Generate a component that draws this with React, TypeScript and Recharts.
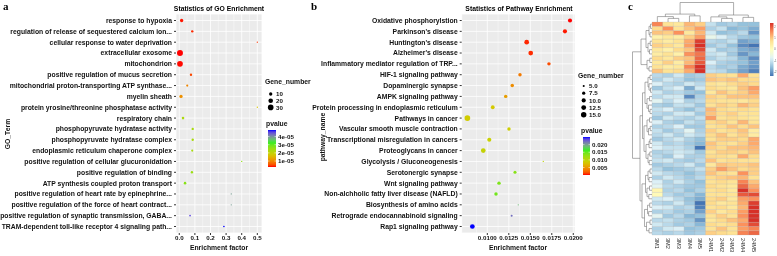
import React from "react";
import { ScatterChart, Scatter, XAxis, YAxis, ZAxis, CartesianGrid, Cell, BarChart, Bar } from "recharts";

const FONT = "'Liberation Sans', Arial, Helvetica, sans-serif";
const SERIF = "'Liberation Serif', 'Times New Roman', serif";
const FS = 6.8;

// ---------- a: GO enrichment ----------
const goTerms = [
  "response to hypoxia",
  "regulation of release of sequestered calcium ion...",
  "cellular response to water deprivation",
  "extracellular exosome",
  "mitochondrion",
  "positive regulation of mucus secretion",
  "mitochondrial proton-transporting ATP synthase...",
  "myelin sheath",
  "protein yrosine/threonine phosphatase activity",
  "respiratory chain",
  "phosphopyruvate hydratase activity",
  "phosphopyruvate hydratase complex",
  "endoplasmic reticulum chaperone complex",
  "positive regulation of cellular glucuronidation",
  "positive regulation of binding",
  "ATP synthesis coupled proton transport",
  "positive regulation of heart rate by epinephrine...",
  "positive regulation of the force of heart contract...",
  "positive regulation of synaptic transmission, GABA...",
  "TRAM-dependent toll-like receptor 4 signaling path...",
];
const goFactor = [0.015, 0.083, 0.5, 0.0045, 0.0045, 0.075, 0.051, 0.011, 0.5, 0.024, 0.086, 0.086, 0.083, 0.4, 0.081, 0.037, 0.333, 0.333, 0.069, 0.286];
const goGenes = [10, 5, 1, 34, 31, 5, 4, 10, 1, 6, 5, 5, 4, 1, 5, 6, 1, 1, 2, 2];
const goPvalue = [3e-6, 3.5e-6, 4e-6, 2.7e-6, 2.8e-6, 5e-6, 1.0e-5, 1.1e-5, 1.7e-5, 2.3e-5, 2.35e-5, 2.35e-5, 2.35e-5, 2.6e-5, 2.5e-5, 2.7e-5, 3.9e-5, 3.9e-5, 4.55e-5, 4.8e-5];
const goTicksX = [0, 0.1, 0.2, 0.3, 0.4, 0.5];
const goMinorX = [0.05, 0.15, 0.25, 0.35, 0.45];
const goSizeBreaks = [10, 20, 30];
const goPBreaks = [1e-5, 2e-5, 3e-5, 4e-5];
const goPLabels = ["1e-05", "2e-05", "3e-05", "4e-05"];

// ---------- b: pathway enrichment ----------
const pathTerms = [
  "Oxidative phosphorylstion",
  "Parkinson's disease",
  "Huntington's disease",
  "Alzheimer's disease",
  "Inflammatory mediator regulation of TRP...",
  "HIF-1 signaling pathway",
  "Dopaminergic synapse",
  "AMPK signaling pathway",
  "Protein processing in endoplasmic reticulum",
  "Pathways in cancer",
  "Vascular smooth muscle contraction",
  "Transcriptional misregulation in cancers",
  "Proteoglycans in cancer",
  "Glycolysis / Gluconeogenesis",
  "Serotonergic synapse",
  "Wnt signaling pathway",
  "Non-alchholic fatty liver disease (NAFLD)",
  "Biosynthesis of amino acids",
  "Retrograde endocannabinoid signaling",
  "Rap1 signaling pathway",
];
const pathFactor = [0.01962, 0.01903, 0.01458, 0.01505, 0.01717, 0.0138, 0.0129, 0.01214, 0.01063, 0.00768, 0.01252, 0.01023, 0.00953, 0.01651, 0.01322, 0.01136, 0.01101, 0.0136, 0.01283, 0.00826];
const pathGenes = [10, 10, 12, 12, 8, 8, 8, 8, 9, 16, 8, 10, 12, 4, 7, 8, 8, 4, 5, 12];
const pathPvalue = [0.0001, 0.0003, 0.0005, 0.0006, 0.0015, 0.0035, 0.0045, 0.0055, 0.0082, 0.0085, 0.0088, 0.0092, 0.0095, 0.0098, 0.0135, 0.014, 0.0145, 0.0188, 0.022, 0.025];
const pathTicksX = [0.01, 0.0125, 0.015, 0.0175, 0.02];
const pathMinorX = [0.00875, 0.01125, 0.01375, 0.01625, 0.01875];
const pathSizeBreaks = [5, 7.5, 10, 12.5, 15];
const pathPBreaks = [0.005, 0.01, 0.015, 0.02];
const pathPLabels = ["0.005", "0.010", "0.015", "0.020"];

// ---------- c: heatmap (row z-scores, rows top -> bottom) ----------
const samples = ["3M1", "3M2", "3M3", "3M4", "3M5", "24M1", "24M2", "24M3", "24M4", "24M5"];
const s3M1 = [1.4, 0.7, 0.9, 0.3, 0.6, 0.8, 0.5, 0.4, 0.7, 0.5, 0.6, 0.9,
  -1.0, -1.1, -0.7, -1.2, -0.8, -1.0, -0.6, -1.1, -0.9, -1.0, -1.2, -0.7, -1.1, -0.9, -1.0, -1.2, -0.8, -0.7, -1.1,
  -1.0, -0.9, -1.2, -1.0, -0.8, -1.1, -0.7, -0.6, 0.2, 0.1, -0.8, -1.0, -0.7, -1.1, -0.6, -1.0, -0.8, -1.1, -1.0];
const s3M2 = [0.6, 1.3, 0.8, 0.5, 0.4, 0.7, 0.3, 0.6, 0.5, 0.8, 0.4, 0.6,
  -1.1, -0.8, -1.0, -0.9, -1.1, -0.8, -1.0, -1.2, -0.7, -1.1, -0.8, -1.1, -1.0, -1.2, -0.8, -1.0, -1.1, -0.9, -1.0,
  -1.2, -0.8, -1.1, -1.3, -1.0, -0.8, -1.1, -1.0, -1.1, -1.0, -0.7, -1.1, -0.8, -1.0, -1.2, -0.9, -1.0, -0.8, -1.1];
const s3M3 = [0.5, 0.6, 1.3, 0.4, 0.6, 0.5, 0.7, 0.3, 0.8, 0.4, 0.5, 0.7,
  -0.8, -1.0, -1.1, -0.7, -1.0, -0.8, -0.7, -0.9, -1.1, -0.8, -1.0, -1.2, -0.7, -1.0, -1.1, -0.8, -1.0, -0.9, -0.8,
  -0.7, -1.1, -1.0, -1.2, -1.1, -1.0, -0.8, -1.1, -1.0, -1.2, -1.0, -0.8, -1.1, -1.2, -1.0, -1.1, -1.2, -0.7, -1.0];
const s3M4 = [1.0, 0.9, 0.5, 0.8, 1.1, 1.2, 0.9, 1.3, 0.9, 1.0, 1.4, 1.1,
  -1.2, -1.3, -0.8, -1.5, -1.2, -1.8, -1.1, -0.9, -1.3, -0.8, -1.1, -0.9, -1.2, -0.6, -0.8, -1.1, -1.2, -1.1, -0.9,
  -1.1, -1.2, -0.8, -1.1, -1.3, -1.2, -1.1, -1.2, -1.3, -1.1, -1.3, -1.2, -1.0, -1.1, -1.4, -1.2, -1.1, -1.3, -1.2];
const s3M5 = [0.8, 1.2, 1.0, 1.2, 1.9, 2.4, 1.8, 1.5, 1.6, 1.7, 2.2, 2.3,
  -1.1, -1.2, -1.0, -0.8, -1.3, -1.1, -1.0, -1.2, -1.0, -1.2, -0.9, -1.1, -1.2, -1.1, -1.0, -1.3, -1.4, -2.0, -1.2,
  -1.1, -1.0, -1.2, -0.9, -1.1, -1.0, -1.3, -1.2, -1.1, -1.4, -1.5, -2.1, -1.9, -1.6, -1.3, -1.7, -1.4, -1.2, -1.1];
const s24M1 = [-0.9, -1.1, -0.8, -0.5, -1.0, -1.2, -0.8, -0.9, -1.1, -0.7, -1.0, -0.9,
  0.8, 0.9, 0.6, 0.7, 0.5, 0.8, 0.7, 0.6, 1.0, 0.9, 1.2, 0.7, 0.6, 0.8, 0.7, 0.6, 0.9, 0.8, 0.6,
  0.7, 0.9, 0.5, 0.8, 0.9, 0.7, 0.6, 0.7, 0.6, 0.6, 0.7, 0.7, 0.6, 0.8, 0.6, 0.5, 0.7, 0.6, 0.8];
const s24M2 = [-1.2, -0.9, -1.3, -0.7, -1.1, -1.0, -1.2, -0.8, -0.9, -1.1, -1.2, -1.0,
  0.7, 0.8, 0.5, 0.6, 0.9, 0.7, 0.6, 0.8, 0.7, 0.7, 0.6, 0.8, 0.7, 0.6, 0.9, 0.8, 0.7, 0.7, 0.8,
  0.7, 0.6, 0.9, 1.2, 0.7, 0.8, 0.7, 0.6, 0.7, 0.6, 0.8, 0.5, 0.7, 0.5, 0.8, 0.7, 0.6, 0.9, 0.7];
const s24M3 = [-1.1, -1.4, -1.2, -1.0, -0.9, -1.3, -1.1, -1.2, -1.0, -1.2, -1.1, -1.3,
  0.6, 0.9, 0.7, 0.5, 0.7, 0.9, 0.6, 0.7, 0.6, 0.8, 0.7, 0.6, 0.9, 0.7, 0.6, 0.8, 0.6, 0.9, 0.8,
  0.6, 0.7, 0.8, 0.9, 0.6, 0.9, 0.6, 0.5, 0.5, 0.6, 0.5, 0.6, 0.5, 0.7, 0.6, 0.9, 0.7, 0.6, 0.6];
const s24M4 = [-1.3, -1.3, -1.0, -1.2, -1.6, -1.8, -1.5, -1.7, -1.4, -1.3, -1.5, -1.6,
  1.1, 0.7, 0.8, 0.9, 0.8, 0.9, 0.5, 1.0, 0.7, 0.6, 0.6, 1.0, 0.7, 0.9, 0.8, 0.7, 0.8, 0.9, 0.7,
  1.1, 0.6, 0.8, 0.7, 1.3, 1.0, 1.4, 1.6, 2.4, 1.7, 1.2, 1.1, 1.0, 1.2, 1.3, 1.1, 1.3, 1.2, 1.4];
const s24M5 = [-1.3, -1.5, -1.7, -1.3, -1.5, -2.3, -1.6, -1.4, -1.8, -1.6, -1.7, -1.9,
  0.6, 0.7, 0.7, 1.2, 1.1, 0.9, 0.7, 0.8, 0.6, 0.6, 0.5, 0.6, 0.9, 0.4, 0.4, 1.1, 1.1, 1.0, 0.9,
  0.7, 0.6, 0.9, 0.8, 0.8, 0.6, 0.9, 1.1, 1.3, 1.8, 1.3, 1.9, 2.2, 2.3, 2.0, 2.2, 1.8, 1.4, 1.6];
const heatCols = [s3M1, s3M2, s3M3, s3M4, s3M5, s24M1, s24M2, s24M3, s24M4, s24M5];
const heatKeyLabels = ["2", "1", "0", "-1", "-2"];

// dendrograms: [mergeHeight, left, right], leaves are row / column indices
type Tree = number | [number, Tree, Tree];
const rowTop: Tree = [11, [6, [3, [1.5, 0, 1], [2, 2, 3]], [4, [1.8, 4, 5], [2.5, 6, 7]]], [5, [2.2, 8, 9], [3, 10, 11]]];
const rowB1: Tree = [7, [4, [2, 12, 13], [3, 14, [1.5, 15, 16]]], [5, [2.5, 17, 18], [3.5, 19, [2, 20, 21]]]];
const rowB2: Tree = [8, [5, [2.5, 22, 23], [3.5, [1.8, 24, 25], 26]], [6, [3, [2, 27, 28], 29], [4, [2.2, 30, 31], [2.8, 32, 33]]]];
const rowB3: Tree = [6.5, [4, [2, 34, 35], [3, 36, 37]], [5, [2.5, 38, 39], [3.2, 40, 41]]];
const rowB4: Tree = [7.5, [4.5, [2.3, 42, 43], [3.4, 44, 45]], [5.5, [2, 46, 47], [3, 48, 49]]];
const rowTree: Tree = [19.5, rowTop, [12, [9.5, rowB1, rowB2], [10, rowB3, rowB4]]];
const colTree: Tree = [19, [7.7, [5.3, 0, [3.5, 1, 2]], [6, 3, 4]], [6.8, [5, 5, [3.5, 6, 7]], [4.5, 8, 9]]];

// ---------- colour helpers ----------
const hexRgb = (h: string) => {
  const n = parseInt(h.slice(1), 16);
  return [(n >> 16) & 255, (n >> 8) & 255, n & 255];
};
const toHex = (c: number[]) =>
  "#" + c.map((v) => Math.round(Math.max(0, Math.min(255, v))).toString(16).padStart(2, "0")).join("");
const lin = (c: number) => {
  c /= 255;
  return c <= 0.04045 ? c / 12.92 : Math.pow((c + 0.055) / 1.055, 2.4);
};
const gam = (c: number) => {
  c = Math.max(0, Math.min(1, c));
  return (c <= 0.0031308 ? 12.92 * c : 1.055 * Math.pow(c, 1 / 2.4) - 0.055) * 255;
};
const WX = 0.95047, WZ = 1.08883;
const fLab = (t: number) => (t > 216 / 24389 ? Math.cbrt(t) : (841 / 108) * t + 4 / 29);
const fInv = (t: number) => (t > 6 / 29 ? t * t * t : (108 / 841) * (t - 4 / 29));
function rgbToLab([r, g, b]: number[]) {
  const R = lin(r), G = lin(g), B = lin(b);
  const fx = fLab((0.4124564 * R + 0.3575761 * G + 0.1804375 * B) / WX);
  const fy = fLab(0.2126729 * R + 0.7151522 * G + 0.072175 * B);
  const fz = fLab((0.0193339 * R + 0.119192 * G + 0.9503041 * B) / WZ);
  return [116 * fy - 16, 500 * (fx - fy), 200 * (fy - fz)];
}
function labToRgb([L, a, b]: number[]) {
  const fy = (L + 16) / 116;
  const X = WX * fInv(fy + a / 500), Y = fInv(fy), Z = WZ * fInv(fy - b / 200);
  return [
    gam(3.2404542 * X - 1.5371385 * Y - 0.4985314 * Z),
    gam(-0.969266 * X + 1.8760108 * Y + 0.041556 * Z),
    gam(0.0556434 * X - 0.2040259 * Y + 1.0572252 * Z),
  ];
}
function ramp(colors: string[], lab: boolean) {
  const pts = colors.map((c) => (lab ? rgbToLab(hexRgb(c)) : hexRgb(c)));
  return (t: number) => {
    const s = Math.max(0, Math.min(1, t)) * (pts.length - 1);
    const i = Math.min(Math.floor(s), pts.length - 2);
    const f = s - i;
    const m = pts[i].map((v, k) => v + (pts[i + 1][k] - v) * f);
    return toHex(lab ? labToRgb(m) : m);
  };
}
const pRamp = ramp(["#FF0000", "#D2CC00", "#22EE22", "#0000FF"], true);
const heatRamp = ramp(["#4575B4", "#91BFDB", "#E0F3F8", "#FFFFBF", "#FEE090", "#FC8D59", "#D73027"], false);
const HEAT_LO = -2, HEAT_HI = 2;
const heatColor = (v: number) => heatRamp((v - HEAT_LO) / (HEAT_HI - HEAT_LO));

const goPmin = Math.min(...goPvalue), goPmax = Math.max(...goPvalue);
const pathPmin = Math.min(...pathPvalue), pathPmax = Math.max(...pathPvalue);

// size scale (area) shared by chart ZAxis and legend
const GO_Z = { domain: [1, 34], range: [1.3, 28] };
const PATH_Z = { domain: [4, 16], range: [1.3, 25.5] };
const areaOf = (n: number, z: { domain: number[]; range: number[] }) =>
  z.range[0] + ((n - z.domain[0]) / (z.domain[1] - z.domain[0])) * (z.range[1] - z.range[0]);

// ---------- chart data ----------
const goData = goTerms.map((t, i) => ({ term: t, x: goFactor[i], y: goTerms.length - 1 - i, z: goGenes[i], p: goPvalue[i] }));
const pathData = pathTerms.map((t, i) => ({ term: t, x: pathFactor[i], y: pathTerms.length - 1 - i, z: pathGenes[i], p: pathPvalue[i] }));

const nRows = s3M1.length;
const heatData = samples.map((s) => {
  const row: Record<string, string | number> = { sample: s };
  for (let i = 0; i < nRows; i++) row["r" + i] = 1;
  return row;
});

type Seg = { p1: number; h1: number; p2: number; h2: number; h: number };
function walk(t: Tree, out: Seg[]): { p: number; h: number } {
  if (typeof t === "number") return { p: t + 0.5, h: 0 };
  const [h, l, r] = t;
  const a = walk(l, out), b = walk(r, out);
  out.push({ p1: a.p, h1: a.h, p2: b.p, h2: b.h, h });
  return { p: (a.p + b.p) / 2, h };
}
const rowSegs: Seg[] = [];
walk(rowTree, rowSegs);
const colSegs: Seg[] = [];
walk(colTree, colSegs);
const rowLinks = rowSegs.map((s) => [
  { x: s.h1, y: s.p1 }, { x: s.h, y: s.p1 }, { x: s.h, y: s.p2 }, { x: s.h2, y: s.p2 },
]);
const colLinks = colSegs.map((s) => [
  { x: s.p1, y: s.h1 }, { x: s.p1, y: s.h }, { x: s.p2, y: s.h }, { x: s.p2, y: s.h2 },
]);

// ---------- pieces ----------
const INK = "#111";
const xTick = { fontSize: 6.2, fill: INK, fontWeight: 700, fontFamily: FONT };

function makeYTick(labels: string[]) {
  return (props: any) => {
    const { x, y, payload } = props;
    return (
      <text x={x} y={y} dy="0.36em" textAnchor="end" fontSize={FS} fontWeight={700} fontFamily={FONT} fill={INK}>
        {labels[labels.length - 1 - payload.value]}
      </text>
    );
  };
}

function DotPlot(props: {
  data: typeof goData; labels: string[]; width: number; yWidth: number; right: number;
  domain: number[]; ticks: number[]; minor: number[]; fmt: (v: number) => string;
  z: { domain: number[]; range: number[] }; color: (p: number) => string;
}) {
  const { data, labels } = props;
  return (
    <ScatterChart width={props.width} height={256} margin={{ top: 14, right: props.right, bottom: 3, left: 0 }}>
      <CartesianGrid fill="#EBEBEB" fillOpacity={1} stroke="#FFFFFF" strokeWidth={0.8} />
      <CartesianGrid horizontal={false} verticalValues={props.minor} stroke="#FFFFFF" strokeWidth={0.4} />
      <XAxis type="number" dataKey="x" domain={props.domain} ticks={props.ticks} tickFormatter={props.fmt}
        allowDataOverflow interval={0} height={20} axisLine={false} tickSize={2} tickMargin={1}
        tickLine={{ stroke: "#333" }} tick={xTick} />
      <YAxis type="number" dataKey="y" domain={[-0.6, labels.length - 0.4]} ticks={labels.map((_, i) => i)}
        allowDataOverflow interval={0} width={props.yWidth} axisLine={false} tickSize={2} tickMargin={2}
        tickLine={{ stroke: "#333" }} tick={makeYTick(labels)} />
      <ZAxis type="number" dataKey="z" domain={props.z.domain} range={props.z.range} />
      <Scatter data={data} isAnimationActive={false}>
        {data.map((d, i) => (
          <Cell key={i} fill={props.color(d.p)} />
        ))}
      </Scatter>
    </ScatterChart>
  );
}

const SampleTick = (props: any) => {
  const { x, y, payload } = props;
  return (
    <text transform={`translate(${x - 1.9},${y}) rotate(90)`} fontSize={5.6} fontFamily={FONT} fill="#222" textAnchor="start">
      {payload.value}
    </text>
  );
};

const noDot = () => <g />;

function ColorBar(p: {
  id: string; x: number; y: number; w: number; h: number; title: string;
  lo: number; hi: number; color: (t: number) => string; breaks: number[]; labels: string[];
}) {
  const stops = Array.from({ length: 21 }, (_, k) => k / 20);
  return (
    <g>
      <defs>
        <linearGradient id={p.id} x1="0" y1="1" x2="0" y2="0">
          {stops.map((t) => (
            <stop key={t} offset={t} stopColor={p.color(t)} />
          ))}
        </linearGradient>
      </defs>
      <text x={p.x - 2} y={p.y - 4.5} fontSize={FS} fontWeight={700} fill={INK}>{p.title}</text>
      <rect x={p.x} y={p.y} width={p.w} height={p.h} fill={`url(#${p.id})`} />
      {p.breaks.map((b, k) => {
        const yy = p.y + p.h - ((b - p.lo) / (p.hi - p.lo)) * p.h;
        return (
          <g key={b}>
            <line x1={p.x} x2={p.x + 1.5} y1={yy} y2={yy} stroke="#fff" strokeWidth={0.5} />
            <line x1={p.x + p.w - 1.5} x2={p.x + p.w} y1={yy} y2={yy} stroke="#fff" strokeWidth={0.5} />
            <text x={p.x + p.w + 2} y={yy} dy="0.36em" fontSize={6.2} fontWeight={700} fill={INK}>{p.labels[k]}</text>
          </g>
        );
      })}
    </g>
  );
}

function SizeLegend(p: {
  x: number; y: number; title: string; breaks: number[]; labels: string[];
  z: { domain: number[]; range: number[] }; y0: number; step: number;
}) {
  return (
    <g>
      <text x={p.x} y={p.y} fontSize={FS} fontWeight={700} fill={INK}>{p.title}</text>
      {p.breaks.map((b, k) => {
        const cy = p.y0 + k * p.step;
        return (
          <g key={b}>
            <circle cx={p.x + 5.7} cy={cy} r={Math.sqrt(areaOf(b, p.z) / Math.PI)} fill="#000" />
            <text x={p.x + 11} y={cy} dy="0.36em" fontSize={6.2} fontWeight={700} fill={INK}>{p.labels[k]}</text>
          </g>
        );
      })}
    </g>
  );
}

// a composited, non-opaque layer keeps small text on grayscale antialiasing
const layer: React.CSSProperties = { position: "absolute", left: 0, top: 0, willChange: "transform", transform: "translateZ(0)" };

export default function App() {
  return (
    <div style={{ position: "absolute", left: 0, top: 0, width: 777, height: 256, overflow: "hidden", fontFamily: FONT }}>
      <div style={layer}>
        <DotPlot data={goData} labels={goTerms} width={300} yWidth={176} right={38}
          domain={[-0.021, 0.53]} ticks={goTicksX} minor={goMinorX} fmt={(v) => v.toFixed(1)}
          z={GO_Z} color={(p) => pRamp((p - goPmin) / (goPmax - goPmin))} />
      </div>
      <div style={{ ...layer, left: 300 }}>
        <DotPlot data={pathData} labels={pathTerms} width={300} yWidth={161.7} right={25}
          domain={[0.00702, 0.0202]} ticks={pathTicksX} minor={pathMinorX} fmt={(v) => v.toFixed(4)}
          z={PATH_Z} color={(p) => pRamp((p - pathPmin) / (pathPmax - pathPmin))} />
      </div>

      {/* heatmap body */}
      <div style={{ ...layer, left: 628 }}>
        <BarChart width={149} height={256} data={heatData} barCategoryGap={0} barGap={0}
          margin={{ top: 22, right: 18, bottom: 0, left: 24 }}>
          <XAxis dataKey="sample" height={21} axisLine={false} tickLine={false} tickSize={0} tickMargin={3}
            interval={0} tick={<SampleTick />} />
          <YAxis type="number" domain={[0, nRows]} hide />
          {Array.from({ length: nRows }, (_, k) => nRows - 1 - k).map((i) => (
            <Bar key={i} dataKey={"r" + i} stackId="h" isAnimationActive={false} stroke="#ababab" strokeWidth={0.22}>
              {heatCols.map((col, j) => (
                <Cell key={j} fill={heatColor(col[i])} />
              ))}
            </Bar>
          ))}
        </BarChart>
      </div>
      {/* row dendrogram */}
      <div style={{ ...layer, left: 628 }}>
        <ScatterChart width={24} height={256} margin={{ top: 22, right: 0, bottom: 21, left: 4 }}>
          <XAxis type="number" dataKey="x" domain={[0, 20]} reversed hide />
          <YAxis type="number" dataKey="y" domain={[0, nRows]} reversed hide />
          {rowLinks.map((pts, k) => (
            <Scatter key={k} data={pts} fill="#777" line={{ stroke: "#777", strokeWidth: 0.6 }} shape={noDot} isAnimationActive={false} />
          ))}
        </ScatterChart>
      </div>
      {/* column dendrogram */}
      <div style={{ ...layer, left: 628 }}>
        <ScatterChart width={149} height={22} margin={{ top: 2, right: 18, bottom: 0, left: 24 }}>
          <XAxis type="number" dataKey="x" domain={[0, samples.length]} hide />
          <YAxis type="number" dataKey="y" domain={[0, 19.5]} hide />
          {colLinks.map((pts, k) => (
            <Scatter key={k} data={pts} fill="#777" line={{ stroke: "#777", strokeWidth: 0.6 }} shape={noDot} isAnimationActive={false} />
          ))}
        </ScatterChart>
      </div>

      {/* titles, axis titles, legends */}
      <svg width={777} height={256} style={{ ...layer, pointerEvents: "none", fontFamily: FONT }}>
        <text x={3} y={9.5} fontSize={11} fontWeight={700} fontFamily={SERIF} fill="#000">a</text>
        <text x={311} y={10} fontSize={11} fontWeight={700} fontFamily={SERIF} fill="#000">b</text>
        <text x={628} y={10} fontSize={11} fontWeight={700} fontFamily={SERIF} fill="#000">c</text>

        <text x={219} y={11} textAnchor="middle" fontSize={FS} fontWeight={700} fill="#000">Statistics of GO Enrichment</text>
        <text x={519} y={10.5} textAnchor="middle" fontSize={FS} fontWeight={700} fill="#000">Statistics of Pathway Enrichment</text>

        <text transform="translate(8,134) rotate(-90)" textAnchor="middle" dy="0.36em" fontSize={FS} fontWeight={700} fill={INK}>GO_Term</text>
        <text transform="translate(323,137) rotate(-90)" textAnchor="middle" dy="0.36em" fontSize={FS} fontWeight={700} fill={INK}>pathway_name</text>
        <text x={219} y={250} textAnchor="middle" fontSize={FS} fontWeight={700} fill={INK}>Enrichment factor</text>
        <text x={518} y={250} textAnchor="middle" fontSize={FS} fontWeight={700} fill={INK}>Enrichment factor</text>

        <SizeLegend x={265} y={84} title="Gene_number" breaks={goSizeBreaks} labels={goSizeBreaks.map(String)}
          z={GO_Z} y0={94} step={6.7} />
        <ColorBar id="gradA" x={268} y={130} w={8} h={37} title="pvalue" lo={goPmin} hi={goPmax}
          color={pRamp} breaks={goPBreaks} labels={goPLabels} />

        <SizeLegend x={578} y={78} title="Gene_number" breaks={pathSizeBreaks} labels={pathSizeBreaks.map((v) => v.toFixed(1))}
          z={PATH_Z} y0={86} step={7.2} />
        <ColorBar id="gradB" x={583} y={137} w={7} h={38} title="pvalue" lo={pathPmin} hi={pathPmax}
          color={pRamp} breaks={pathPBreaks} labels={pathPLabels} />

        {/* heatmap colour key */}
        <defs>
          <linearGradient id="gradHeat" x1="0" y1="1" x2="0" y2="0">
            {Array.from({ length: 21 }, (_, k) => k / 20).map((t) => (
              <stop key={t} offset={t} stopColor={heatRamp(t)} />
            ))}
          </linearGradient>
        </defs>
        <rect x={770} y={23} width={3.5} height={53} fill="url(#gradHeat)" />
        {heatKeyLabels.map((l, k) => (
          <text key={l} x={774.2} y={27 + k * 11.2} dy="0.36em" fontSize={2.6} fill="#555">{l}</text>
        ))}
      </svg>
    </div>
  );
}
